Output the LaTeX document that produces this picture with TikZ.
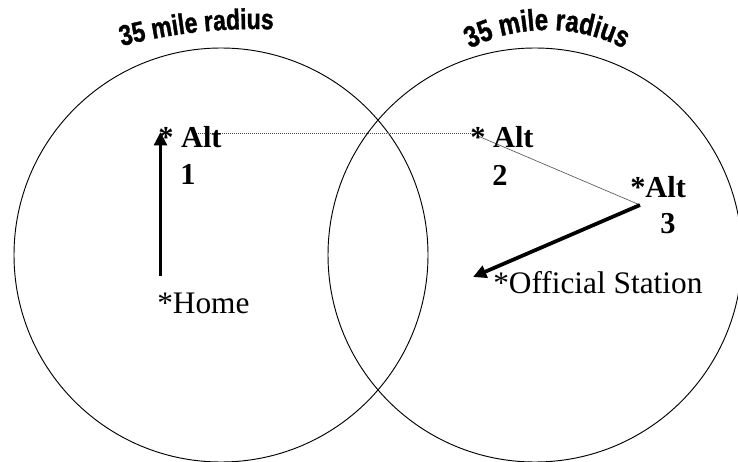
\documentclass[tikz,border=0pt]{standalone}
\usepackage{fontspec}
\setmainfont{Liberation Serif}
\newfontfamily\arcfont[FakeStretch=0.8,BoldFeatures={FakeBold=1.2}]{Liberation Sans}
\usetikzlibrary{arrows.meta,decorations.text}
\begin{document}
\begin{tikzpicture}[x=0.75pt,y=0.75pt,
  ring/.style={draw=black,line width=0.7pt},
  lbl/.style={anchor=base west,inner sep=0pt,font=\fontsize{23.5}{28}\selectfont},
  boldlbl/.style={anchor=base west,inner sep=0pt,font=\fontsize{22.8}{27}\selectfont\bfseries},
  bigarrow/.style={line width=2.8pt,-{Triangle[length=10pt,width=9.5pt]}},
  dotline/.style={draw=black!70,line width=0.6pt,dash pattern=on 0.8pt off 0.7pt},
  thinline/.style={draw=black!65,line width=0.5pt}]
\useasboundingbox (0,0) rectangle (738,461);
% circles
\coordinate (cL) at (221,206);
\coordinate (cR) at (535,206);
\draw[ring] (cL) circle[radius=207];
\draw[ring] (cR) circle[radius=207];
% curved labels
\coordinate (arcL) at (255,-96);
\coordinate (arcR) at (547,262);
\path[decorate,decoration={text along path,text align=center,
  text={|\arcfont\bfseries\fontsize{21.5}{24}\selectfont|35 mile radius}}]
  (arcL) ++(106.3:528) arc[start angle=106.3,end angle=86.3,radius=528];
\path[decorate,decoration={text along path,text align=center,
  text={|\arcfont\bfseries\fontsize{22.5}{25}\selectfont|35 mile radius}}]
  (arcR) ++(125:169) arc[start angle=125,end angle=55,radius=169];
% connector points
\coordinate (homeT) at (160.5,185);
\coordinate (alt1T) at (160.5,329);
\coordinate (dotA) at (192,328);
\coordinate (dotB) at (472,328);
\coordinate (alt2T) at (478,325);
\coordinate (alt3T) at (640,256);
\coordinate (offT) at (473,184);
% connectors
\draw[dotline] (dotA) -- (dotB);
\draw[thinline] (alt2T) -- (alt3T);
\draw[bigarrow] (homeT) -- (alt1T);
\draw[bigarrow] (alt3T) -- (offT);
% labels
\node[boldlbl] (alt1) at (158,313) {* Alt};
\node[boldlbl] (n1) at (180,276) {1};
\node[boldlbl] (alt2) at (470,313) {* Alt};
\node[boldlbl] (n2) at (492,275) {2};
\node[boldlbl] (alt3) at (630,263) {*Alt};
\node[boldlbl] (n3) at (660,228) {3};
\node[lbl] (off) at (493,168) {*Official Station};
\node[lbl] (home) at (157,148) {*Home};
\end{tikzpicture}
\end{document}
